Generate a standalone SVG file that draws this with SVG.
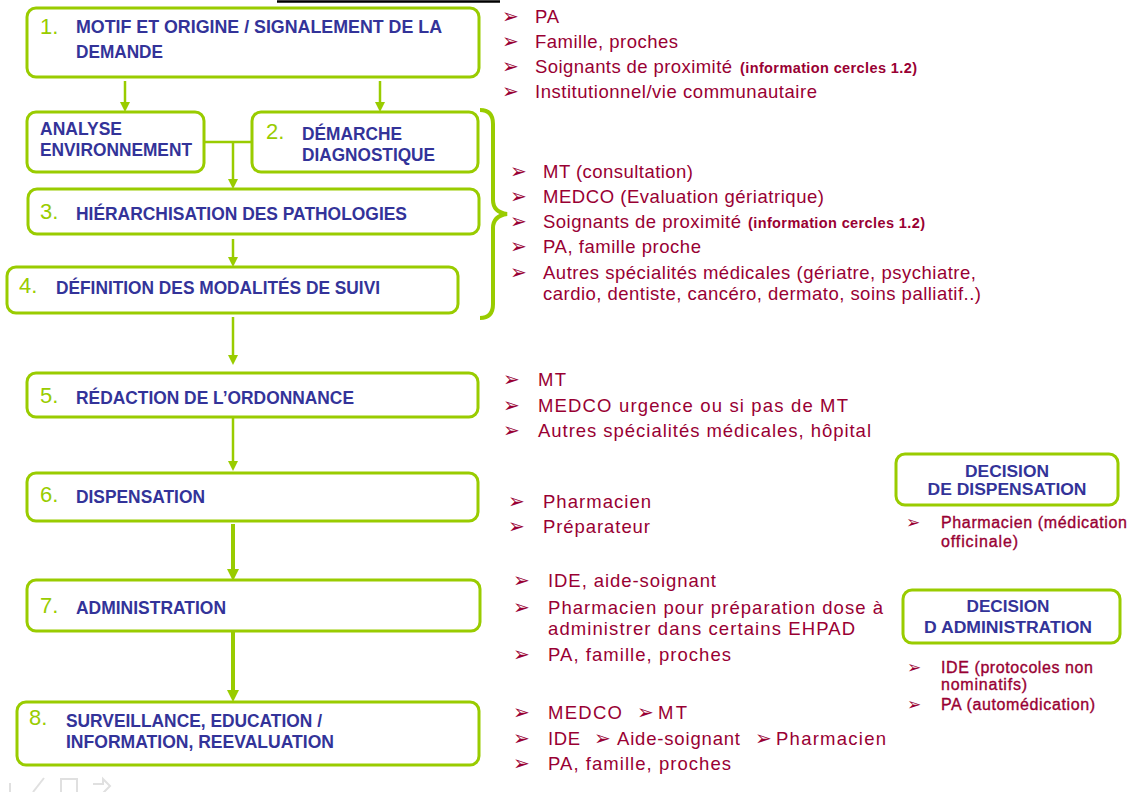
<svg xmlns="http://www.w3.org/2000/svg" width="1135" height="792" viewBox="0 0 1135 792">
<defs>
<style>
.box{fill:#fff;stroke:#99CC00;stroke-width:3}
.num{font-family:"Liberation Sans",Arial,sans-serif;font-size:22px;fill:#99CC00}
.ttl{font-family:"Liberation Sans",Arial,sans-serif;font-size:18px;font-weight:bold;fill:#333399}
.dt{font-family:"Liberation Sans",Arial,sans-serif;font-size:16px;font-weight:bold;fill:#333399;text-anchor:middle}
.li{font-family:"Liberation Sans",Arial,sans-serif;font-size:18.5px;fill:#990033}
.sm{font-family:"Liberation Sans",Arial,sans-serif;font-size:14.5px;font-weight:bold;fill:#990033}
.dl{font-family:"Liberation Sans",Arial,sans-serif;font-size:16px;fill:#990033;stroke:#990033;stroke-width:0.35}
.bu{font-family:"DejaVu Sans",sans-serif;font-size:20px;fill:#990033}
.bs{font-family:"DejaVu Sans",sans-serif;font-size:17px;fill:#990033}
.ln{fill:none;stroke:#99CC00;stroke-width:2.5}
.lt{fill:none;stroke:#99CC00;stroke-width:4}
.ic{fill:none;stroke:#e0e0e0;stroke-width:2}
</style>
<marker id="ah" markerUnits="userSpaceOnUse" markerWidth="12" markerHeight="10" viewBox="0 0 10 10" refX="0" refY="5" orient="auto"><path d="M0,0 L10,5 L0,10 z" fill="#99CC00"/></marker>
<marker id="ahb" markerUnits="userSpaceOnUse" markerWidth="12" markerHeight="12" viewBox="0 0 10 10" refX="0" refY="5" orient="auto"><path d="M0,0 L10,5 L0,10 z" fill="#99CC00"/></marker>
</defs>
<rect width="1135" height="792" fill="#fff"/>
<line x1="277" y1="1.5" x2="500" y2="1.5" stroke="#000" stroke-width="2.5"/>

<g id="connectors">
<line class="ln" x1="125" y1="81" x2="125" y2="102" marker-end="url(#ah)"/>
<line class="ln" x1="380" y1="81" x2="380" y2="102" marker-end="url(#ah)"/>
<line class="ln" x1="204" y1="142" x2="252" y2="142"/>
<line class="ln" x1="233" y1="142" x2="233" y2="179" marker-end="url(#ah)"/>
<line class="ln" x1="233" y1="239" x2="233" y2="257" marker-end="url(#ah)"/>
<line class="ln" x1="233" y1="317" x2="233" y2="355" marker-end="url(#ah)"/>
<line class="ln" x1="233" y1="413" x2="233" y2="461" marker-end="url(#ah)"/>
<line class="lt" x1="233" y1="524" x2="233" y2="569" marker-end="url(#ahb)"/>
<line class="lt" x1="233" y1="631" x2="233" y2="690" marker-end="url(#ahb)"/>
<path class="lt" d="M480,110 Q493,110 493,124 L493,200 Q493,212 507,214 Q493,216 493,228 L493,304 Q493,318 480,318"/>
</g>

<g id="n1">
<rect class="box" x="27" y="8" width="452" height="69" rx="9"/>
<text class="num" x="40" y="34">1.</text>
<text class="ttl" x="76" y="33" textLength="366" lengthAdjust="spacingAndGlyphs">MOTIF ET ORIGINE / SIGNALEMENT DE LA</text>
<text class="ttl" x="76" y="58" textLength="87" lengthAdjust="spacingAndGlyphs">DEMANDE</text>
</g>
<g id="nAnalyse">
<rect class="box" x="27" y="112" width="177" height="60" rx="9"/>
<text class="ttl" x="40" y="135" textLength="82" lengthAdjust="spacingAndGlyphs">ANALYSE</text>
<text class="ttl" x="40" y="156" textLength="152" lengthAdjust="spacingAndGlyphs">ENVIRONNEMENT</text>
</g>
<g id="n2">
<rect class="box" x="252" y="112" width="226" height="60" rx="9"/>
<text class="num" x="266" y="139">2.</text>
<text class="ttl" x="302" y="140" textLength="100" lengthAdjust="spacingAndGlyphs">DÉMARCHE</text>
<text class="ttl" x="302" y="161" textLength="133" lengthAdjust="spacingAndGlyphs">DIAGNOSTIQUE</text>
</g>
<g id="n3">
<rect class="box" x="28" y="189" width="451" height="45" rx="9"/>
<text class="num" x="40" y="219">3.</text>
<text class="ttl" x="76" y="220" textLength="331" lengthAdjust="spacingAndGlyphs">HIÉRARCHISATION DES PATHOLOGIES</text>
</g>
<g id="n4">
<rect class="box" x="7" y="267" width="451" height="46" rx="9"/>
<text class="num" x="19" y="293">4.</text>
<text class="ttl" x="56" y="294" textLength="324" lengthAdjust="spacingAndGlyphs">DÉFINITION DES MODALITÉS DE SUIVI</text>
</g>
<g id="n5">
<rect class="box" x="27" y="373" width="451" height="44" rx="9"/>
<text class="num" x="40" y="403">5.</text>
<text class="ttl" x="76" y="404" textLength="278" lengthAdjust="spacingAndGlyphs">RÉDACTION DE L’ORDONNANCE</text>
</g>
<g id="n6">
<rect class="box" x="27" y="473" width="451" height="48" rx="9"/>
<text class="num" x="40" y="502">6.</text>
<text class="ttl" x="76" y="503" textLength="129" lengthAdjust="spacingAndGlyphs">DISPENSATION</text>
</g>
<g id="n7">
<rect class="box" x="27" y="580" width="453" height="51" rx="9"/>
<text class="num" x="40" y="613">7.</text>
<text class="ttl" x="76" y="614" textLength="150" lengthAdjust="spacingAndGlyphs">ADMINISTRATION</text>
</g>
<g id="n8">
<rect class="box" x="17" y="702" width="462" height="63" rx="9"/>
<text class="num" x="29" y="725">8.</text>
<text class="ttl" x="66" y="727" textLength="256" lengthAdjust="spacingAndGlyphs">SURVEILLANCE, EDUCATION /</text>
<text class="ttl" x="66" y="748" textLength="268" lengthAdjust="spacingAndGlyphs">INFORMATION, REEVALUATION</text>
</g>
<g id="decDispensation">
<rect class="box" x="896" y="454" width="222" height="51" rx="9"/>
<text class="dt" x="1007" y="477" textLength="84" lengthAdjust="spacingAndGlyphs">DECISION</text>
<text class="dt" x="1007" y="495" textLength="159" lengthAdjust="spacingAndGlyphs">DE DISPENSATION</text>
</g>
<g id="decAdministration">
<rect class="box" x="903" y="590" width="217" height="53" rx="9"/>
<text class="dt" x="1008" y="612" textLength="83" lengthAdjust="spacingAndGlyphs">DECISION</text>
<text class="dt" x="1008" y="633" textLength="168" lengthAdjust="spacingAndGlyphs">D ADMINISTRATION</text>
</g>

<g id="list1">
<text class="bu" x="502" y="23">➢</text><text class="li" x="535" y="23" textLength="24">PA</text>
<text class="bu" x="502" y="48">➢</text><text class="li" x="535" y="48" textLength="143">Famille, proches</text>
<text class="bu" x="502" y="73">➢</text><text class="li" x="535" y="73" textLength="197">Soignants de proximité</text><text class="sm" x="740" y="73" textLength="177">(information cercles 1.2)</text>
<text class="bu" x="502" y="98">➢</text><text class="li" x="535" y="98" textLength="282">Institutionnel/vie communautaire</text>
</g>
<g id="list2">
<text class="bu" x="510" y="178">➢</text><text class="li" x="543" y="178" textLength="150">MT (consultation)</text>
<text class="bu" x="510" y="203">➢</text><text class="li" x="543" y="203" textLength="281">MEDCO (Evaluation gériatrique)</text>
<text class="bu" x="510" y="228">➢</text><text class="li" x="543" y="228" textLength="198">Soignants de proximité</text><text class="sm" x="748" y="228" textLength="177">(information cercles 1.2)</text>
<text class="bu" x="510" y="253">➢</text><text class="li" x="543" y="253" textLength="158">PA, famille proche</text>
<text class="bu" x="510" y="279">➢</text><text class="li" x="543" y="279" textLength="433">Autres spécialités médicales (gériatre, psychiatre,</text>
<text class="li" x="543" y="300" textLength="438">cardio, dentiste, cancéro, dermato, soins palliatif..)</text>
</g>
<g id="list3">
<text class="bu" x="503" y="386">➢</text><text class="li" x="538" y="386" textLength="28">MT</text>
<text class="bu" x="503" y="412">➢</text><text class="li" x="538" y="412" textLength="310">MEDCO urgence ou si pas de MT</text>
<text class="bu" x="503" y="437">➢</text><text class="li" x="538" y="437" textLength="333">Autres spécialités médicales, hôpital</text>
</g>
<g id="list4">
<text class="bu" x="508" y="508">➢</text><text class="li" x="543" y="508" textLength="108">Pharmacien</text>
<text class="bu" x="508" y="533">➢</text><text class="li" x="543" y="533" textLength="107">Préparateur</text>
</g>
<g id="list5">
<text class="bu" x="513" y="587">➢</text><text class="li" x="548" y="587" textLength="168">IDE, aide-soignant</text>
<text class="bu" x="513" y="614">➢</text><text class="li" x="548" y="614" textLength="335">Pharmacien pour préparation dose à</text>
<text class="li" x="548" y="635" textLength="307">administrer dans certains EHPAD</text>
<text class="bu" x="513" y="661">➢</text><text class="li" x="548" y="661" textLength="183">PA, famille, proches</text>
</g>
<g id="list6">
<text class="bu" x="513" y="719">➢</text><text class="li" x="548" y="719" textLength="74">MEDCO</text>
<text class="bu" x="637" y="719">➢</text><text class="li" x="658" y="719" textLength="29">MT</text>
<text class="bu" x="513" y="745">➢</text><text class="li" x="548" y="745" textLength="32">IDE</text>
<text class="bu" x="594" y="745">➢</text><text class="li" x="617" y="745" textLength="123">Aide-soignant</text>
<text class="bu" x="755" y="745">➢</text><text class="li" x="776" y="745" textLength="110">Pharmacien</text>
<text class="bu" x="513" y="770">➢</text><text class="li" x="548" y="770" textLength="183">PA, famille, proches</text>
</g>
<g id="list7">
<text class="bs" x="906" y="528">➢</text><text class="dl" x="941" y="528" textLength="186">Pharmacien (médication</text>
<text class="dl" x="941" y="547" textLength="77">officinale)</text>
</g>
<g id="list8">
<text class="bs" x="907" y="673">➢</text><text class="dl" x="941" y="673" textLength="152">IDE (protocoles non</text>
<text class="dl" x="941" y="690" textLength="86">nominatifs)</text>
<text class="bs" x="907" y="710">➢</text><text class="dl" x="941" y="710" textLength="154">PA (automédication)</text>
</g>

<g id="toolbar">
<line class="ic" x1="10" y1="783" x2="10" y2="792"/>
<line class="ic" x1="33" y1="792" x2="44" y2="778"/>
<rect class="ic" x="61" y="779" width="16" height="14"/>
<path class="ic" d="M93,784 L103,784 L103,779 L110,786 L103,793"/>
</g>
</svg>
